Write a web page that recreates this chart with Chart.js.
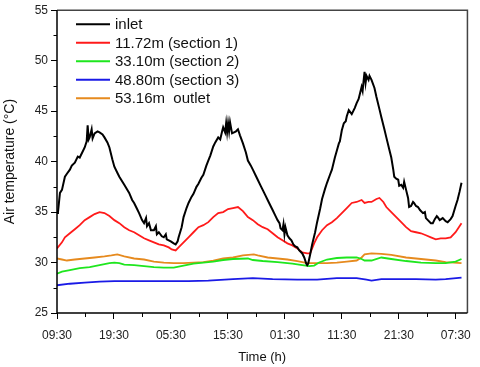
<!DOCTYPE html>
<html><head><meta charset="utf-8">
<script src="https://cdn.jsdelivr.net/npm/chart.js@4.4.1/dist/chart.umd.min.js"></script>
<style>html,body{margin:0;padding:0;background:#fff}#wrap{width:480px;height:367px}</style>
</head><body><div id="wrap"><canvas id="c" width="480" height="367"></canvas></div>
<script>
const seriesLabels = ['inlet','11.72m (section 1)','33.10m (section 2)','48.80m (section 3)','53.16m  outlet'];
const seriesColors = ['#000000','#ff1a1a','#1ee61e','#1a1ae6','#e68a1e'];
const xTickHours = [0,10,20,30,40,50,60,70];
const xTickLabels = ['09:30','19:30','05:30','15:30','01:30','11:30','21:30','07:30'];
const yTickValues = [25,30,35,40,45,50,55];

const inletHours = [0,0.17,0.52,0.87,1.39,1.74,2.26,2.60,3.13,3.65,3.99,4.51,4.86,5.21,5.38,5.56,5.73,6.08,6.25,6.60,7.12,7.47,7.99,8.33,8.85,9.20,9.72,10.07,10.59,10.94,
11.81,12.67,13.19,13.54,14.06,14.41,14.93,15.28,15.63,15.80,16.15,16.49,17.01,17.36,17.53,17.88,18.40,18.75,19.10,19.27,19.62,19.97,20.49,20.83,21.18,21.35,21.88,22.22,22.74,23.09,
23.61,23.96,24.48,24.83,25.35,25.69,26.22,26.56,26.91,27.43,27.78,28.30,28.65,28.99,29.17,29.51,29.69,29.86,30.03,30.21,30.38,30.73,31.08,31.42,31.77,32.12,32.64,33.16,33.51,34.03,
34.38,34.90,35.24,35.76,36.11,36.63,36.98,37.50,37.85,38.37,38.72,39.06,39.24,39.58,39.76,39.93,40.10,40.45,40.80,41.15,41.49,41.84,42.19,42.53,43.06,43.40,43.75,43.92,44.10,44.44,
44.79,45.31,45.66,46.18,46.53,47.05,47.40,47.92,48.26,48.78,49.13,49.48,49.65,50.00,50.35,50.69,50.87,51.22,51.74,52.26,52.60,52.95,53.47,53.65,53.82,53.99,54.17,54.34,54.69,54.86,
55.21,55.73,56.08,56.60,56.94,57.47,57.81,58.33,58.68,59.03,59.20,59.55,59.90,60.07,60.42,60.76,60.94,61.28,61.63,61.81,62.15,62.50,62.67,63.02,63.37,63.72,64.24,64.58,64.76,65.10,
65.63,65.97,66.32,66.67,66.84,67.19,67.71,68.23,68.58,69.10,69.44,69.97,70.31,70.66,71.01];
const inletTemp = [34.9,35.0,36.9,37.2,38.5,38.8,39.2,39.6,39.9,40.5,40.4,41.0,41.4,42.0,43.6,42.2,42.4,43.2,42.3,42.8,43.0,42.9,42.7,42.4,41.9,41.4,40.2,39.5,38.9,38.5,
37.7,36.9,36.2,35.9,35.3,34.9,34.2,33.9,34.4,33.6,33.9,33.2,33.2,33.6,32.8,33.0,32.6,32.5,32.8,32.3,32.2,32.1,31.9,31.8,32.1,32.5,33.5,34.5,35.4,35.9,
36.5,36.8,37.5,37.8,38.4,38.7,39.6,40.1,40.6,41.5,41.9,42.4,42.2,43.0,43.4,42.9,43.8,42.9,43.8,43.0,43.9,42.8,42.9,43.0,43.2,42.6,41.8,40.9,40.1,39.6,
39.2,38.6,38.2,37.6,37.2,36.6,36.2,35.6,35.2,34.6,34.2,33.9,33.4,33.2,33.8,32.8,33.5,32.7,32.4,32.2,31.8,31.6,31.5,31.2,30.9,30.5,29.9,29.75,29.9,30.8,
31.8,33.0,34.0,35.3,36.3,37.3,37.9,38.7,39.2,40.4,41.1,41.8,42.0,43.1,43.8,44.0,44.5,45.1,44.7,45.3,45.8,46.2,47.4,47.0,48.0,48.9,47.8,48.5,48.1,48.5,
48.1,47.3,46.4,45.2,44.4,43.2,42.4,41.2,40.4,39.2,38.5,38.3,38.2,37.6,37.7,37.4,38.0,37.2,36.4,35.5,35.6,36.0,35.9,35.6,35.5,35.2,34.9,35.0,34.4,34.2,
33.9,33.9,34.3,34.6,34.5,34.2,34.4,34.1,34.0,34.3,34.6,35.6,36.2,37.0,37.9];

const sec1Hours = [0,0.87,1.39,2.26,3.13,3.99,4.86,5.73,6.60,7.47,8.33,9.20,10.07,10.94,11.81,12.67,13.54,14.41,15.28,16.15,17.01,17.88,18.75,19.62,20.14,20.83,21.35,22.22,23.09,23.96,
24.83,25.69,26.56,27.43,28.30,29.17,30.03,30.90,31.77,32.64,33.51,34.38,35.24,36.11,36.98,37.85,38.72,39.58,40.45,41.32,42.19,43.06,43.92,44.44,45.14,45.66,46.53,47.40,48.26,49.13,
50.00,50.87,51.74,52.60,53.47,53.99,54.69,55.21,56.08,56.60,57.29,57.81,58.68,59.55,60.42,61.28,62.15,63.02,63.89,64.76,65.63,66.49,67.36,68.23,69.10,69.97,71.01];
const sec1Temp = [31.4,32.0,32.5,32.9,33.3,33.7,34.2,34.5,34.8,35.0,34.9,34.6,34.2,33.9,33.5,33.2,33.0,32.7,32.4,32.2,32.0,31.8,31.7,31.5,31.3,31.2,31.5,32.0,32.5,33.0,
33.5,33.7,34.0,34.5,34.9,35.0,35.3,35.4,35.5,35.1,34.5,34.2,33.8,33.5,33.3,32.9,32.5,32.2,31.9,31.7,31.4,31.0,30.9,30.9,31.9,32.5,33.2,33.7,34.0,34.4,
34.9,35.4,35.9,36.0,36.2,35.9,36.0,36.0,36.3,36.4,36.0,35.5,35.0,34.5,34.0,33.5,33.1,33.0,32.9,32.7,32.5,32.3,32.4,32.4,32.5,33.0,33.9];

const sec2Hours = [0,0.87,2.26,3.99,5.73,7.47,9.20,10.07,10.94,11.81,13.54,15.28,17.01,18.75,20.49,22.22,23.96,25.69,27.43,29.17,30.90,33.51,34.38,36.11,38.72,41.32,43.06,44.27,45.14,46.01,
47.40,49.13,50.87,52.60,53.47,53.99,55.21,56.94,58.68,61.28,63.89,66.49,68.23,69.97,71.01];
const sec2Temp = [28.9,29.1,29.25,29.45,29.55,29.75,29.95,30.0,29.95,29.8,29.75,29.65,29.55,29.5,29.5,29.7,29.9,30.0,30.1,30.25,30.35,30.4,30.25,30.15,30.05,29.9,29.75,29.65,29.7,30.0,
30.3,30.45,30.5,30.5,30.35,30.2,30.2,30.5,30.35,30.15,30.0,29.95,29.95,30.1,30.35];

const sec3Hours = [0,2.26,4.86,7.47,10.07,12.67,16.15,19.62,23.09,26.56,30.90,34.38,37.85,42.19,45.66,49.13,52.60,54.34,55.21,56.94,59.55,63.02,66.49,68.23,71.01];
const sec3Temp = [27.75,27.9,28.0,28.1,28.15,28.15,28.15,28.15,28.15,28.2,28.35,28.45,28.35,28.3,28.3,28.45,28.45,28.3,28.2,28.35,28.35,28.35,28.3,28.35,28.5];

const outletHours = [0,0.87,1.74,3.13,4.86,6.60,8.33,9.55,10.59,11.81,13.54,15.28,17.01,18.75,20.49,22.22,23.96,25.69,27.43,29.17,30.90,32.64,34.55,35.24,36.98,38.72,40.45,42.19,43.92,45.66,
47.40,49.13,50.87,52.60,53.47,53.99,55.21,56.94,58.68,61.28,63.89,66.49,68.23,71.01];
const outletTemp = [30.4,30.3,30.2,30.3,30.4,30.5,30.6,30.7,30.8,30.6,30.4,30.3,30.1,30.0,29.95,29.95,30.0,30.05,30.2,30.4,30.5,30.7,30.8,30.7,30.5,30.4,30.3,30.15,29.95,29.95,
29.95,30.0,30.1,30.2,30.5,30.8,30.9,30.85,30.75,30.5,30.35,30.2,30.05,29.95];

function pts(xs, ys){ return xs.map((x,i)=>({x:x, y:ys[i]})); }
const allHours = [inletHours, sec1Hours, sec2Hours, sec3Hours, outletHours];
const allTemps = [inletTemp, sec1Temp, sec2Temp, sec3Temp, outletTemp];
const widths = [2,1.8,1.8,1.8,1.8];

const FONT = '"Liberation Sans", Arial, Helvetica, sans-serif';

const decorPlugin = {
  id: 'decor',
  afterDraw(chart){
    const {ctx, chartArea:a, scales} = chart;
    ctx.save();
    ctx.strokeStyle = '#444'; ctx.lineWidth = 1.5;
    ctx.beginPath();
    ctx.moveTo(a.left, a.top); ctx.lineTo(a.right, a.top); ctx.lineTo(a.right, a.bottom);
    ctx.stroke();
    ctx.strokeStyle = '#000';
    ctx.beginPath(); ctx.moveTo(a.left, a.top); ctx.lineTo(a.left, a.bottom); ctx.lineTo(a.right, a.bottom); ctx.stroke();
    ctx.lineWidth = 1;
    ctx.beginPath();
    for (let i=0;i<yTickValues.length-1;i++){
      const y = Math.round(scales.y.getPixelForValue((yTickValues[i]+yTickValues[i+1])/2))+0.5;
      ctx.moveTo(a.left-3.5, y); ctx.lineTo(a.left, y);
    }
    for (let i=0;i<xTickHours.length;i++){
      const x = Math.round(scales.x.getPixelForValue(xTickHours[i]+5))+0.5;
      if (x < a.right-2){ ctx.moveTo(x, a.bottom); ctx.lineTo(x, a.bottom+4); }
    }
    ctx.stroke();
    ctx.font = '15px ' + FONT;
    ctx.textBaseline = 'middle';
    ctx.textAlign = 'left';
    chart.data.datasets.forEach((ds,i)=>{
      const y = a.top + 14 + i*18.5;
      ctx.strokeStyle = ds.borderColor; ctx.lineWidth = 2;
      ctx.beginPath(); ctx.moveTo(a.left+19, y); ctx.lineTo(a.left+53, y); ctx.stroke();
      ctx.fillStyle = '#111';
      ctx.fillText(ds.label, a.left+58, y+1);
    });
    ctx.restore();
  }
};

new Chart(document.getElementById('c'), {
  type: 'line',
  data: {
    datasets: seriesLabels.map((lab,i)=>({
      label: lab,
      data: pts(allHours[i], allTemps[i]),
      borderColor: seriesColors[i],
      backgroundColor: seriesColors[i],
      borderWidth: widths[i],
      pointRadius: 0,
      tension: 0,
      fill: false
    }))
  },
  options: {
    responsive: false,
    animation: false,
    devicePixelRatio: 1,
    layout: { padding: { left: 0, top: 10, right: 8, bottom: 0 } },
    plugins: { legend: { display: false }, tooltip: { enabled: false } },
    scales: {
      x: {
        type: 'linear', min: 0, max: 72.05,
        afterBuildTicks: s => { s.ticks = xTickHours.map(v=>({value:v})); },
        afterFit: s => { s.height = 54; },
        grid: { drawOnChartArea: false, drawTicks: true, tickLength: 6, color: '#000', tickColor: '#000' },
        border: { display: false },
        ticks: { padding: 9, maxRotation: 0, autoSkip: false, color: '#222', font: { size: 12, family: FONT },
          callback: (v, i) => xTickLabels[i] },
        title: { display: true, text: 'Time (h)', color: '#111', font: { size: 13, family: FONT }, padding: { top: 0, bottom: 2 } }
      },
      y: {
        type: 'linear', min: 25, max: 55,
        afterBuildTicks: s => { s.ticks = yTickValues.map(v=>({value:v})); },
        afterFit: s => { s.width = 57; },
        grid: { drawOnChartArea: false, drawTicks: true, tickLength: 6, color: '#000', tickColor: '#000' },
        border: { display: false },
        ticks: { padding: 3, color: '#222', font: { size: 12, family: FONT }, callback: v => String(v) },
        title: { display: true, text: 'Air temperature (°C)', color: '#111', font: { size: 14, family: FONT }, padding: { top: 2, bottom: 0 } }
      }
    }
  },
  plugins: [decorPlugin]
});
</script>
</body></html>
